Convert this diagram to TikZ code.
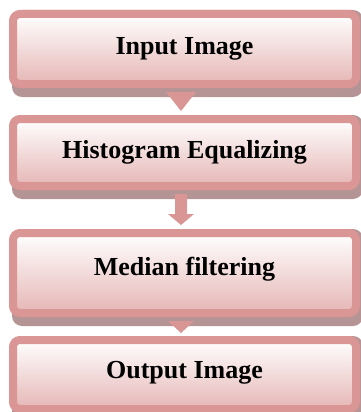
\documentclass[tikz,border=0pt]{standalone}
\usepackage{fontspec}
\setmainfont{Liberation Serif}
\usetikzlibrary{calc,backgrounds}
\definecolor{bordercol}{RGB}{217,150,148}
\definecolor{shadowcol}{RGB}{180,148,148}
\definecolor{fillbot}{RGB}{229,182,181}
\definecolor{filltop}{RGB}{255,255,255}
\tikzset{
  stepbox/.style={draw=bordercol, line width=8pt, rounded corners=7pt,
    top color=filltop, bottom color=fillbot, minimum width=343pt,
    inner sep=0pt, text=black, font=\bfseries\fontsize{26}{30}\selectfont},
  boxshadow/.style={fill=shadowcol, rounded corners=10pt},
  flowarrow/.style={fill=bordercol}
}
\begin{document}
\begin{tikzpicture}[x=1pt,y=-1pt]
\useasboundingbox (0,0) rectangle (361,412);
\node[stepbox, minimum height=70pt] (a) at (184.5,49) {Input Image};
\node[stepbox, minimum height=67pt] (b) at (184.5,152.5) {Histogram Equalizing};
\node[stepbox, minimum height=80pt, text depth=13pt] (c) at (184.5,273) {Median filtering};
\node[stepbox, minimum height=69pt, text depth=9pt] (d) at (184.5,374.5) {Output Image};
\begin{scope}[on background layer]
  \foreach \n in {a,b,c,d}{
    \fill[boxshadow] ($(\n.north west)+(3,0)$) rectangle ($(\n.south east)+(3,9)$);
  }
\end{scope}
% connectors
\fill[flowarrow] ($(a.south)+(-18.5,4)$) -- ($(a.south)+(11.5,4)$) -- ($(b.north)+(-3.5,-4)$) -- cycle;
\fill[flowarrow] ($(b.south)+(-9.5,4)$) -- ($(b.south)+(2.5,4)$) -- ($(b.south)+(2.5,24)$)
  -- ($(b.south)+(9.5,24)$) -- ($(c.north)+(-3.5,-4)$) -- ($(b.south)+(-16.5,24)$)
  -- ($(b.south)+(-9.5,24)$) -- cycle;
\fill[flowarrow] ($(c.south)+(-16.5,4)$) -- ($(c.south)+(9.5,4)$) -- ($(d.north)+(-3.5,-3)$) -- cycle;
\end{tikzpicture}
\end{document}
